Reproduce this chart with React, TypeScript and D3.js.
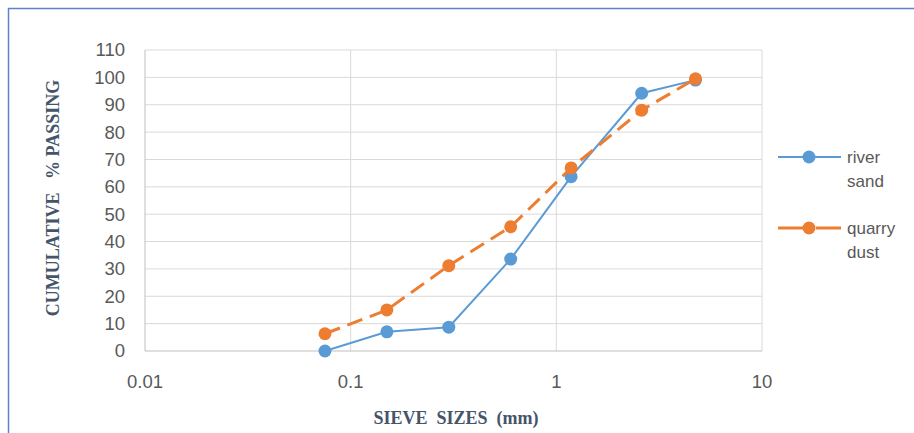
import React, { useEffect, useRef } from 'react';
import * as d3 from 'd3';

// sieve sizes (mm) and cumulative % passing
const sieveSizes = [0.075, 0.15, 0.3, 0.6, 1.18, 2.6, 4.75];
const riverSand = [0, 7, 8.7, 33.6, 63.7, 94.2, 99];
const quarryDust = [6.3, 15, 31.2, 45.4, 66.9, 88, 99.5];
const yTicks = [0, 10, 20, 30, 40, 50, 60, 70, 80, 90, 100, 110];
const xTicks = [0.01, 0.1, 1, 10];
const seriesNames = [['river', 'sand'], ['quarry', 'dust']];

const App = () => {
  const ref = useRef<SVGSVGElement>(null);

  useEffect(() => {
    const svg = d3.select(ref.current)
      .attr('width', 914)
      .attr('height', 433);

    svg.selectAll('*').remove();

    // outer chart border (only top/left visible)
    svg.append('rect')
      .attr('x', 8.5).attr('y', 8.5)
      .attr('width', 1000).attr('height', 600)
      .attr('fill', '#fff')
      .attr('stroke', '#5a86c8')
      .attr('stroke-width', 1.5);

    const left = 145, right = 762, top = 50, bottom = 351;

    const x = d3.scaleLog().domain([0.01, 10]).range([left, right]);
    const y = d3.scaleLinear().domain([0, 110]).range([bottom, top]);

    // horizontal gridlines
    svg.append('g')
      .selectAll('line')
      .data(yTicks.filter(d => d > 0))
      .enter()
      .append('line')
      .attr('x1', left).attr('x2', right)
      .attr('y1', d => y(d)).attr('y2', d => y(d))
      .attr('stroke', '#d9d9d9')
      .attr('stroke-width', 1);

    // vertical gridlines
    svg.append('g')
      .selectAll('line')
      .data(xTicks.filter(d => d > 0.01))
      .enter()
      .append('line')
      .attr('x1', d => x(d)).attr('x2', d => x(d))
      .attr('y1', top).attr('y2', bottom)
      .attr('stroke', '#d9d9d9')
      .attr('stroke-width', 1);

    // axis lines
    svg.append('line')
      .attr('x1', left).attr('x2', left)
      .attr('y1', top).attr('y2', bottom)
      .attr('stroke', '#bfbfbf').attr('stroke-width', 1);
    svg.append('line')
      .attr('x1', left).attr('x2', right)
      .attr('y1', bottom).attr('y2', bottom)
      .attr('stroke', '#bfbfbf').attr('stroke-width', 1);

    // tick labels
    svg.append('g')
      .selectAll('text')
      .data(yTicks)
      .enter()
      .append('text')
      .attr('x', 125)
      .attr('y', d => y(d))
      .attr('dy', '0.35em')
      .attr('text-anchor', 'end')
      .attr('font-family', 'Liberation Sans, sans-serif')
      .attr('font-size', 18.5)
      .attr('fill', '#595959')
      .text(d => d);

    svg.append('g')
      .selectAll('text')
      .data(xTicks)
      .enter()
      .append('text')
      .attr('x', d => x(d))
      .attr('y', 388)
      .attr('text-anchor', 'middle')
      .attr('font-family', 'Liberation Sans, sans-serif')
      .attr('font-size', 18.5)
      .attr('fill', '#595959')
      .text(d => String(d));

    // axis titles
    svg.append('text')
      .attr('transform', 'translate(59,198) rotate(-90)')
      .attr('text-anchor', 'middle')
      .attr('font-family', 'Liberation Serif, serif')
      .attr('font-weight', 'bold')
      .attr('font-size', 18)
      .attr('fill', '#44546a')
      .style('white-space', 'pre')
      .text('CUMULATIVE   % PASSING');

    svg.append('text')
      .attr('x', 456)
      .attr('y', 424)
      .attr('text-anchor', 'middle')
      .attr('font-family', 'Liberation Serif, serif')
      .attr('font-weight', 'bold')
      .attr('font-size', 18)
      .attr('fill', '#44546a')
      .style('white-space', 'pre')
      .text('SIEVE  SIZES  (mm)');

    const series = [
      { values: riverSand, color: '#5b9bd5', width: 2, dash: null },
      { values: quarryDust, color: '#ed7d31', width: 3, dash: '16,8' },
    ];

    const line = d3.line<number>()
      .x((d, i) => x(sieveSizes[i]))
      .y(d => y(d));

    series.forEach(s => {
      svg.append('path')
        .datum(s.values)
        .attr('d', line)
        .attr('fill', 'none')
        .attr('stroke', s.color)
        .attr('stroke-width', s.width)
        .attr('stroke-dasharray', s.dash);

      svg.append('g')
        .selectAll('circle')
        .data(s.values)
        .enter()
        .append('circle')
        .attr('cx', (d, i) => x(sieveSizes[i]))
        .attr('cy', d => y(d))
        .attr('r', 6.5)
        .attr('fill', s.color);
    });

    // legend
    const legendY = [157, 228];
    series.forEach((s, i) => {
      const g = svg.append('g').attr('transform', `translate(0,${legendY[i]})`);
      g.append('line')
        .attr('x1', 778).attr('x2', 841)
        .attr('y1', 0).attr('y2', 0)
        .attr('stroke', s.color)
        .attr('stroke-width', s.width)
        .attr('stroke-dasharray', s.dash ? '32,6' : null);
      g.append('circle')
        .attr('cx', 809).attr('cy', 0).attr('r', 6.5)
        .attr('fill', s.color);
      seriesNames[i].forEach((t, j) => {
        g.append('text')
          .attr('x', 847)
          .attr('y', j * 24)
          .attr('dy', '0.35em')
          .attr('font-family', 'Liberation Sans, sans-serif')
          .attr('font-size', 17)
          .attr('fill', '#595959')
          .text(t);
      });
    });
  }, []);

  return <svg ref={ref} style={{ position: 'absolute', left: 0, top: 0 }}></svg>;
};

export default App;
